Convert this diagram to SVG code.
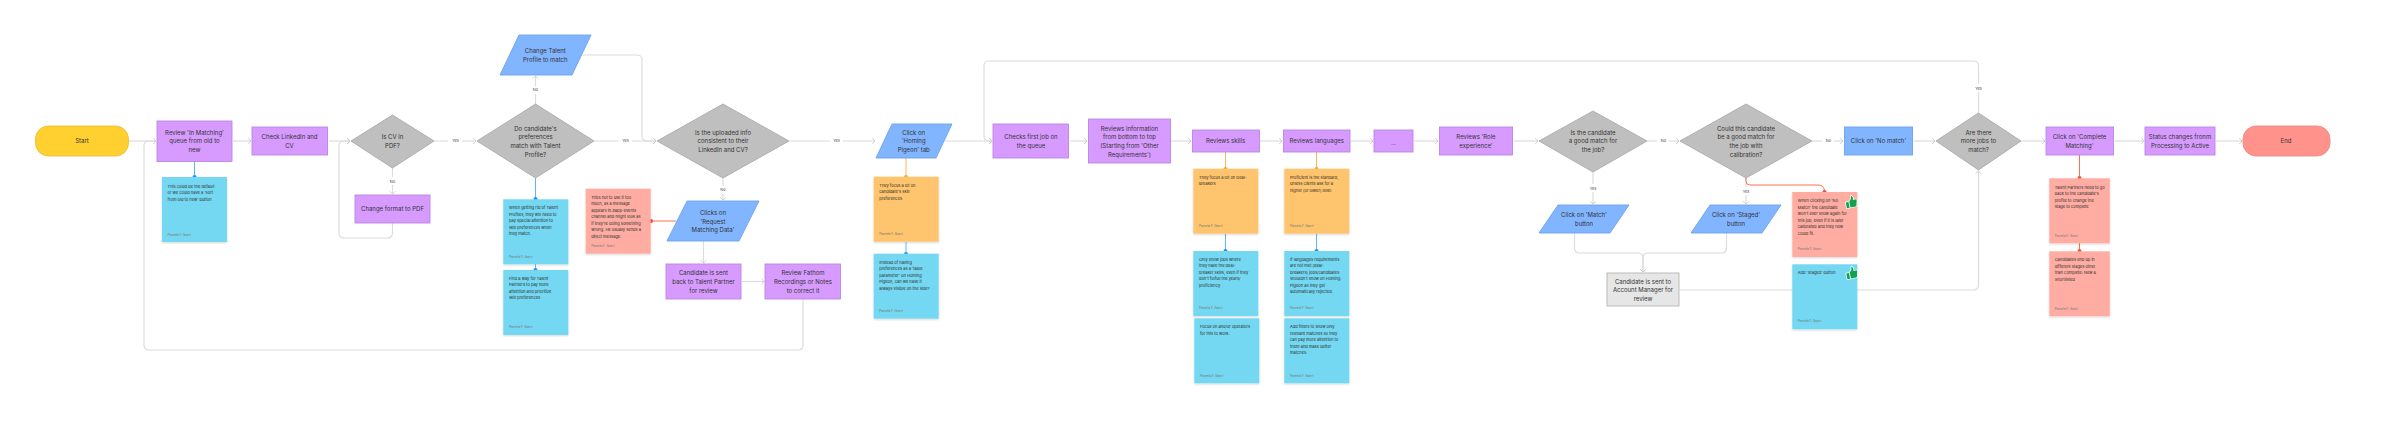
<svg xmlns="http://www.w3.org/2000/svg" width="2400" height="423" viewBox="0 0 2400 423">
<style>
text{font-family:Inter,"Noto Sans","Liberation Sans",sans-serif}
.t{font-size:6px;fill:#333;text-anchor:middle}
.n{font-size:4px;fill:#2b2b2b}
.a{font-size:3.2px;fill:#777}
.l{font-size:3.9px;fill:#444;text-anchor:middle}
.p{fill:#D79BFF;stroke:#BB86E0;stroke-width:.9}
.b{fill:#82B5FF;stroke:#6EA2EA;stroke-width:.9}
.d{fill:#BFBFBF;stroke:#ABABAB;stroke-width:.9}
.nb{fill:#75D8F2;filter:url(#sh)}
.no{fill:#FFC46E;filter:url(#sh)}
.nr{fill:#FFADA3;filter:url(#sh)}
.c{fill:none;stroke:#DCDCDC;stroke-width:1.2;marker-end:url(#ar)}
.c0{fill:none;stroke:#DCDCDC;stroke-width:1.2}
.lb{fill:#fff}
.sb{stroke:#5BB8FF;stroke-width:1;fill:none}
.so{stroke:#FFB454;stroke-width:1;fill:none}
.sr{stroke:#FF6F55;stroke-width:1;fill:none}
.thumb{fill:#12A150;stroke:#fff;stroke-width:1.4;paint-order:stroke}
</style>
<defs>
<marker id="ar" markerUnits="userSpaceOnUse" markerWidth="8" markerHeight="8" refX="6" refY="4" orient="auto"><path d="M3.2,1 L6,4 L3.2,7" fill="none" stroke="#C6C6C6" stroke-width=".8"/></marker>
<filter id="sh" x="-10%" y="-10%" width="120%" height="125%"><feDropShadow dx="0" dy="1" stdDeviation="1" flood-color="#000" flood-opacity=".16"/></filter>
</defs>
<rect width="2400" height="423" fill="#fff"/>
<g id="connectors">
<path class="c" d="M129,141H156"/>
<path class="c0" d="M803,299V345Q803,350 798,350H149Q144,350 144,345V146Q144,141 149,141H156"/>
<path class="c" d="M233,141H251"/>
<path class="c" d="M329,141H350"/>
<path class="c" d="M392.5,223V233Q392.5,238 387.5,238H344Q339,238 339,233V146Q339,141 344,141H350"/>
<path class="c" d="M434,141H476"/>
<path class="c" d="M392.5,168V194"/>
<path class="c" d="M535.5,104V76"/>
<path class="c" d="M583,55H637Q642,55 642,60V136Q642,141 647,141H656"/>
<path class="c" d="M594,141H656"/>
<path class="c" d="M789,141H875"/>
<path class="c" d="M723,178V200"/>
<path class="c" d="M703.5,241V263"/>
<path class="c" d="M742,281.500H764"/>
<path class="c" d="M945,141H992"/>
<path class="c" d="M1978.500,113V66Q1978.500,61 1973.500,61H989Q984,61 984,66V136Q984,141 989,141H992"/>
<path class="c" d="M1070,141H1087"/>
<path class="c" d="M1171,141H1191"/>
<path class="c" d="M1260,141H1282"/>
<path class="c" d="M1351,141H1373"/>
<path class="c" d="M1414,141H1438"/>
<path class="c" d="M1514,141H1538"/>
<path class="c" d="M1647,141H1679"/>
<path class="c" d="M1812,141H1843"/>
<path class="c" d="M1914,141H1935"/>
<path class="c" d="M2021,141H2045"/>
<path class="c" d="M2115,141H2144"/>
<path class="c" d="M2216,141H2242"/>
<path class="c" d="M1593,172V204"/>
<path class="c" d="M1746,178V204"/>
<path class="c" d="M1574.500,233V248Q1574.500,253 1579.500,253H1638Q1643,253 1643,258V272"/>
<path class="c" d="M1726.500,233V248Q1726.500,253 1721.500,253H1648Q1643,253 1643,258V272"/>
<path class="c" d="M1680,290H1973.500Q1978.500,290 1978.500,285V171"/>
<g id="connector-labels">
<rect class="lb" x="448" y="137" width="14" height="8"/><text class="l" x="455.500" y="142.400">Yes</text>
<rect class="lb" x="387" y="177" width="11" height="8"/><text class="l" x="392.500" y="182.800">No</text>
<rect class="lb" x="530" y="86" width="11" height="8"/><text class="l" x="535.500" y="91.300">No</text>
<rect class="lb" x="619" y="137" width="13" height="8"/><text class="l" x="625.500" y="142.400">Yes</text>
<rect class="lb" x="830" y="137" width="13" height="8"/><text class="l" x="836.500" y="142.400">Yes</text>
<rect class="lb" x="717" y="186" width="12" height="8"/><text class="l" x="723" y="191">No</text>
<rect class="lb" x="1657" y="137" width="12" height="8"/><text class="l" x="1663.500" y="142.400">No</text>
<rect class="lb" x="1822" y="137" width="12" height="8"/><text class="l" x="1828.500" y="142.400">No</text>
<rect class="lb" x="1587" y="184" width="12" height="8"/><text class="l" x="1593" y="189.800">Yes</text>
<rect class="lb" x="1740" y="187" width="12" height="8"/><text class="l" x="1746" y="193">Yes</text>
<rect class="lb" x="1972" y="84" width="13" height="8"/><text class="l" x="1978.500" y="89.700">Yes</text>
</g>
<path class="sb" d="M194.500,162V177"/><circle cx="194.500" cy="177" r="2" fill="#1394FF"/>
<path class="sb" d="M535.500,178V199"/><circle cx="535.500" cy="199" r="2" fill="#1394FF"/>
<path class="sb" d="M535.500,264V270"/><circle cx="535.500" cy="270" r="2" fill="#1394FF"/>
<path class="sr" d="M676,221H651"/><circle cx="651" cy="221" r="2" fill="#FF4B2B"/>
<path class="so" d="M906,158V177"/><circle cx="906" cy="177" r="2" fill="#FF9F2E"/>
<path class="sb" d="M906,242V254"/><circle cx="906" cy="254" r="2" fill="#1394FF"/>
<path class="so" d="M1225.500,152V169"/><circle cx="1225.500" cy="169" r="2" fill="#FF9F2E"/>
<path class="sb" d="M1225.500,234V251"/><circle cx="1225.500" cy="251" r="2" fill="#1394FF"/>
<path class="so" d="M1316.500,152V169"/><circle cx="1316.500" cy="169" r="2" fill="#FF9F2E"/>
<path class="sb" d="M1316.500,234V251"/><circle cx="1316.500" cy="251" r="2" fill="#1394FF"/>
<path class="sr" d="M1746,178V181Q1746,185 1750,185H1818Q1824.500,185 1824.500,192"/><circle cx="1824.500" cy="192" r="2" fill="#FF4B2B"/>
<path class="sr" d="M2079.500,155V178"/><circle cx="2079.500" cy="178" r="2" fill="#FF4B2B"/>
<path class="sr" d="M2079.500,243V251"/><circle cx="2079.500" cy="251" r="2" fill="#FF4B2B"/>
</g>
<g id="start"><rect x="35.500" y="126" width="93" height="30" rx="13" fill="#FFD02F" stroke="#E8BF3A" stroke-width=".9"/><text class="t" x="82" y="143.200">Start</text></g>
<g id="review-queue"><rect class="p" x="157" y="121" width="75" height="40.500"/><text class="t" x="194.500" y="134.500">Review 'In Matching'</text><text class="t" x="194.500" y="143.200">queue from old to</text><text class="t" x="194.500" y="151.900">new</text></g>
<g id="check-linkedin"><rect class="p" x="252" y="127" width="75.500" height="28"/><text class="t" x="289.500" y="138.900">Check LinkedIn and</text><text class="t" x="289.500" y="147.500">CV</text></g>
<g id="cv-pdf"><path class="d" d="M392.500,115L434,141L392.500,168L351,141Z"/><text class="t" x="392.500" y="138.900">Is CV in</text><text class="t" x="392.500" y="147.500">PDF?</text></g>
<g id="change-format"><rect class="p" x="355" y="195" width="75" height="28"/><text class="t" x="392.500" y="211.300">Change format to PDF</text></g>
<g id="preferences-match"><path class="d" d="M535.500,104L594,141L535.500,178L477,141Z"/><text class="t" x="535.500" y="130.500">Do candidate's</text><text class="t" x="535.500" y="139.200">preferences</text><text class="t" x="535.500" y="147.900">match with Talent</text><text class="t" x="535.500" y="156.500">Profile?</text></g>
<g id="change-talent"><path class="b" d="M519,35H591L572,75H500Z"/><text class="t" x="545.300" y="53.200">Change Talent</text><text class="t" x="545.300" y="61.700">Profile to match</text></g>
<g id="info-consistent"><path class="d" d="M723,104L789,141L723,178L657,141Z"/><text class="t" x="723" y="134.500">Is the uploaded info</text><text class="t" x="723" y="143.200">consistent to their</text><text class="t" x="723" y="151.900">LinkedIn and CV?</text></g>
<g id="request-data"><path class="b" d="M687,201H759L739,241H667Z"/><text class="t" x="713" y="214.900">Clicks on</text><text class="t" x="713" y="223.500">'Request</text><text class="t" x="713" y="232.200">Matching Data'</text></g>
<g id="sent-back"><rect class="p" x="666" y="264" width="75" height="35"/><text class="t" x="703.500" y="275.200">Candidate is sent</text><text class="t" x="703.500" y="283.900">back to Talent Partner</text><text class="t" x="703.500" y="292.500">for review</text></g>
<g id="review-fathom"><rect class="p" x="765" y="264" width="75.500" height="35"/><text class="t" x="803" y="275.200">Review Fathom</text><text class="t" x="803" y="283.900">Recordings or Notes</text><text class="t" x="803" y="292.500">to correct it</text></g>
<g id="homing-tab"><path class="b" d="M892,124H952L936,158H876Z"/><text class="t" x="913.700" y="134.500">Click on</text><text class="t" x="913.700" y="143.200">'Homing</text><text class="t" x="913.700" y="151.900">Pigeon' tab</text></g>
<g id="first-job"><rect class="p" x="993" y="124" width="75.500" height="34"/><text class="t" x="1031" y="138.900">Checks first job on</text><text class="t" x="1031" y="147.500">the queue</text></g>
<g id="reviews-info"><rect class="p" x="1088.500" y="119" width="82" height="44"/><text class="t" x="1129.500" y="130.500">Reviews information</text><text class="t" x="1129.500" y="139.200">from bottom to top</text><text class="t" x="1129.500" y="147.900">(Starting from 'Other</text><text class="t" x="1129.500" y="156.500">Requirements')</text></g>
<g id="reviews-skills"><rect class="p" x="1192.500" y="130" width="67" height="22"/><text class="t" x="1225.500" y="143.200">Reviews skills</text></g>
<g id="reviews-languages"><rect class="p" x="1283.500" y="130" width="66.500" height="22"/><text class="t" x="1316.800" y="143.200">Reviews languages</text></g>
<g id="ellipsis"><rect class="p" x="1374" y="130" width="39" height="22"/><text class="t" x="1393.500" y="144.500">...</text></g>
<g id="role-experience"><rect class="p" x="1439.500" y="127" width="73" height="28"/><text class="t" x="1476" y="138.900">Reviews 'Role</text><text class="t" x="1476" y="147.500">experience'</text></g>
<g id="good-match"><path class="d" d="M1593,111L1647,141L1593,172L1539,141Z"/><text class="t" x="1593" y="134.500">Is the candidate</text><text class="t" x="1593" y="143.200">a good match for</text><text class="t" x="1593" y="151.900">the job?</text></g>
<g id="calibration"><path class="d" d="M1746,104L1812,141L1746,178L1680,141Z"/><text class="t" x="1746" y="130.500">Could this candidate</text><text class="t" x="1746" y="139.200">be a good match for</text><text class="t" x="1746" y="147.900">the job with</text><text class="t" x="1746" y="156.500">calibration?</text></g>
<g id="match-button"><path class="b" d="M1558,205H1629L1610,233H1539Z"/><text class="t" x="1584" y="217.200">Click on 'Match'</text><text class="t" x="1584" y="225.900">button</text></g>
<g id="staged-button"><path class="b" d="M1710,205H1781L1762,233H1691Z"/><text class="t" x="1736" y="217.200">Click on 'Staged'</text><text class="t" x="1736" y="225.900">button</text></g>
<g id="account-manager"><rect x="1607" y="273" width="72" height="33" fill="#E6E6E6" stroke="#B5B5B5" stroke-width=".9"/><text class="t" x="1643" y="283.500">Candidate is sent to</text><text class="t" x="1643" y="292.200">Account Manager for</text><text class="t" x="1643" y="300.900">review</text></g>
<g id="no-match"><rect class="b" x="1844.500" y="127" width="68" height="28"/><text class="t" x="1878.500" y="143.200">Click on 'No match'</text></g>
<g id="more-jobs"><path class="d" d="M1978.500,113L2021,141L1978.500,170L1936,141Z"/><text class="t" x="1978.500" y="134.500">Are there</text><text class="t" x="1978.500" y="143.200">more jobs to</text><text class="t" x="1978.500" y="151.900">match?</text></g>
<g id="complete-matching"><rect class="p" x="2046" y="127" width="67.500" height="28"/><text class="t" x="2079.500" y="138.900">Click on 'Complete</text><text class="t" x="2079.500" y="147.500">Matching'</text></g>
<g id="status-changes"><rect class="p" x="2145" y="127" width="70" height="28"/><text class="t" x="2180" y="138.900">Status changes fronm</text><text class="t" x="2180" y="147.500">Processing to Active</text></g>
<g id="end"><rect x="2243" y="126" width="87" height="30" rx="13" fill="#FF938B" stroke="#EA8C88" stroke-width=".9"/><text class="t" x="2286" y="143.200">End</text></g>
<g id="note-sort"><rect class="nb" x="162" y="177" width="65" height="65"/><text class="n"><tspan x="167.600" y="187.500">This could be the default</tspan><tspan x="167.600" y="194">or we could have a 'sort</tspan><tspan x="167.600" y="200.500">from old to new' button</tspan></text><text class="a" x="167.600" y="236">Pamela F. Ibarri</text></g>
<g id="note-talent-1"><rect class="nb" x="503.300" y="199.300" width="65" height="65"/><text class="n"><tspan x="509" y="209.200">When getting rid of Talent</tspan><tspan x="509" y="215.700">Profiles, they will need to</tspan><tspan x="509" y="222.200">pay special attention to</tspan><tspan x="509" y="228.700">skill preferences when</tspan><tspan x="509" y="235.200">they match.</tspan></text><text class="a" x="509" y="257.500">Pamela F. Ibarri</text></g>
<g id="note-talent-2"><rect class="nb" x="503.300" y="270" width="65" height="65"/><text class="n"><tspan x="509" y="279.900">Find a way for Talent</tspan><tspan x="509" y="286.400">Partners to pay more</tspan><tspan x="509" y="292.900">attention and prioritize</tspan><tspan x="509" y="299.400">skill preferences</tspan></text><text class="a" x="509" y="328">Pamela F. Ibarri</text></g>
<g id="note-request"><rect class="nr" x="585.700" y="188.700" width="65" height="65"/><text class="n"><tspan x="591.200" y="198.900">Tries not to use it too</tspan><tspan x="591.200" y="205.400">much, as a message</tspan><tspan x="591.200" y="211.900">appears in #app-events</tspan><tspan x="591.200" y="218.400">channel and might look as</tspan><tspan x="591.200" y="224.900">if they're doing something</tspan><tspan x="591.200" y="231.400">wrong. He usually sends a</tspan><tspan x="591.200" y="237.900">direct message.</tspan></text><text class="a" x="591.200" y="247">Pamela F. Ibarri</text></g>
<g id="note-homing-1"><rect class="no" x="873.700" y="176.700" width="65" height="65"/><text class="n"><tspan x="879.300" y="186.600">They focus a lot on</tspan><tspan x="879.300" y="193.100">candidate's skill</tspan><tspan x="879.300" y="199.600">preferences</tspan></text><text class="a" x="879.300" y="235">Pamela F. Ibarri</text></g>
<g id="note-homing-2"><rect class="nb" x="873.700" y="253.700" width="65" height="65"/><text class="n"><tspan x="879.300" y="263.600">Instead of having</tspan><tspan x="879.300" y="270.100">preferences as a 'table</tspan><tspan x="879.300" y="276.600">parameter' on Homing</tspan><tspan x="879.300" y="283.100">Pigeon, can we have it</tspan><tspan x="879.300" y="289.600">always visible on the side?</tspan></text><text class="a" x="879.300" y="311.800">Pamela F. Ibarri</text></g>
<g id="note-skills-1"><rect class="no" x="1193.300" y="168.700" width="65" height="65"/><text class="n"><tspan x="1199" y="178.900">They focus a lot on Deal-</tspan><tspan x="1199" y="185.400">Breakers</tspan></text><text class="a" x="1199" y="227">Pamela F. Ibarri</text></g>
<g id="note-skills-2"><rect class="nb" x="1193.300" y="251" width="65" height="65"/><text class="n"><tspan x="1199" y="260.900">Only show jobs where</tspan><tspan x="1199" y="267.400">they have the deal-</tspan><tspan x="1199" y="273.900">breaker skills, even if they</tspan><tspan x="1199" y="280.400">don't fulfull the years/</tspan><tspan x="1199" y="286.900">proficiency</tspan></text><text class="a" x="1199" y="309">Pamela F. Ibarri</text></g>
<g id="note-skills-3"><rect class="nb" x="1194.300" y="318.300" width="65" height="65"/><text class="n"><tspan x="1200" y="328.400">Focus on and/or operators</tspan><tspan x="1200" y="334.900">for this to work.</tspan></text><text class="a" x="1200" y="376.500">Pamela F. Ibarri</text></g>
<g id="note-lang-1"><rect class="no" x="1284.300" y="168.700" width="65" height="65"/><text class="n"><tspan x="1290" y="178.900">Proficient is the standard,</tspan><tspan x="1290" y="185.400">unless clients ask for a</tspan><tspan x="1290" y="191.900">higher (or lower) level</tspan></text><text class="a" x="1290" y="227">Pamela F. Ibarri</text></g>
<g id="note-lang-2"><rect class="nb" x="1284.300" y="251" width="65" height="65"/><text class="n"><tspan x="1290" y="260.900">If languages requirements</tspan><tspan x="1290" y="267.400">are not met (deal-</tspan><tspan x="1290" y="273.900">breakers) jobs/candidates</tspan><tspan x="1290" y="280.400">shouldn't show on Homing</tspan><tspan x="1290" y="286.900">Pigeon as they get</tspan><tspan x="1290" y="293.400">automatically rejected.</tspan></text><text class="a" x="1290" y="309">Pamela F. Ibarri</text></g>
<g id="note-lang-3"><rect class="nb" x="1284.300" y="318.300" width="65" height="65"/><text class="n"><tspan x="1290" y="328.400">Add filters to show only</tspan><tspan x="1290" y="334.900">relevant matches so they</tspan><tspan x="1290" y="341.400">can pay more attention to</tspan><tspan x="1290" y="347.900">them and make better</tspan><tspan x="1290" y="354.400">matches.</tspan></text><text class="a" x="1290" y="376.500">Pamela F. Ibarri</text></g>
<g id="note-no-match"><rect class="nr" x="1792.300" y="192" width="65" height="65"/><text class="n"><tspan x="1797.800" y="202.200">When clicking on 'No</tspan><tspan x="1797.800" y="208.700">Match' the candidate</tspan><tspan x="1797.800" y="215.200">won't ever show again for</tspan><tspan x="1797.800" y="221.700">this job, even if it is later</tspan><tspan x="1797.800" y="228.200">calibrated and they now</tspan><tspan x="1797.800" y="234.700">could fit.</tspan></text><text class="a" x="1797.800" y="250.300">Pamela F. Ibarri</text><path class="thumb" transform="translate(1851,202) rotate(-12) scale(1.05)" d="M-5,-.5h2.600v5.500h-2.600zM-1.600,-.5L.6,-3L.9,-5.500Q2.500,-5.800 2.600,-3.600L2.200,-1.500H5Q6,-1 5.400,.4L4.400,4.300Q4.200,5 3.400,5H-1.600z"/></g>
<g id="note-staged"><rect class="nb" x="1792.300" y="264.300" width="65" height="65"/><text class="n"><tspan x="1797.800" y="274.200">Add 'Staged' button</tspan></text><text class="a" x="1797.800" y="322">Pamela F. Ibarri</text><path class="thumb" transform="translate(1851.500,273) rotate(-12) scale(1.05)" d="M-5,-.5h2.600v5.500h-2.600zM-1.600,-.5L.6,-3L.9,-5.500Q2.500,-5.800 2.600,-3.600L2.200,-1.500H5Q6,-1 5.400,.4L4.400,4.300Q4.200,5 3.400,5H-1.600z"/></g>
<g id="note-complete-1"><rect class="nr" x="2049.300" y="178.300" width="60.500" height="65"/><text class="n"><tspan x="2054.700" y="188.500">Talent Partners need to go</tspan><tspan x="2054.700" y="195">back to the candidate's</tspan><tspan x="2054.700" y="201.500">profile to change the</tspan><tspan x="2054.700" y="208">stage to complete</tspan></text><text class="a" x="2054.700" y="236.800">Pamela F. Ibarri</text></g>
<g id="note-complete-2"><rect class="nr" x="2049.300" y="251.300" width="60.500" height="65"/><text class="n"><tspan x="2054.700" y="261.400">Candidates end up in</tspan><tspan x="2054.700" y="267.900">different stages other</tspan><tspan x="2054.700" y="274.400">than complete: New &amp;</tspan><tspan x="2054.700" y="280.900">Shortlisted</tspan></text><text class="a" x="2054.700" y="309.500">Pamela F. Ibarri</text></g>
</svg>
